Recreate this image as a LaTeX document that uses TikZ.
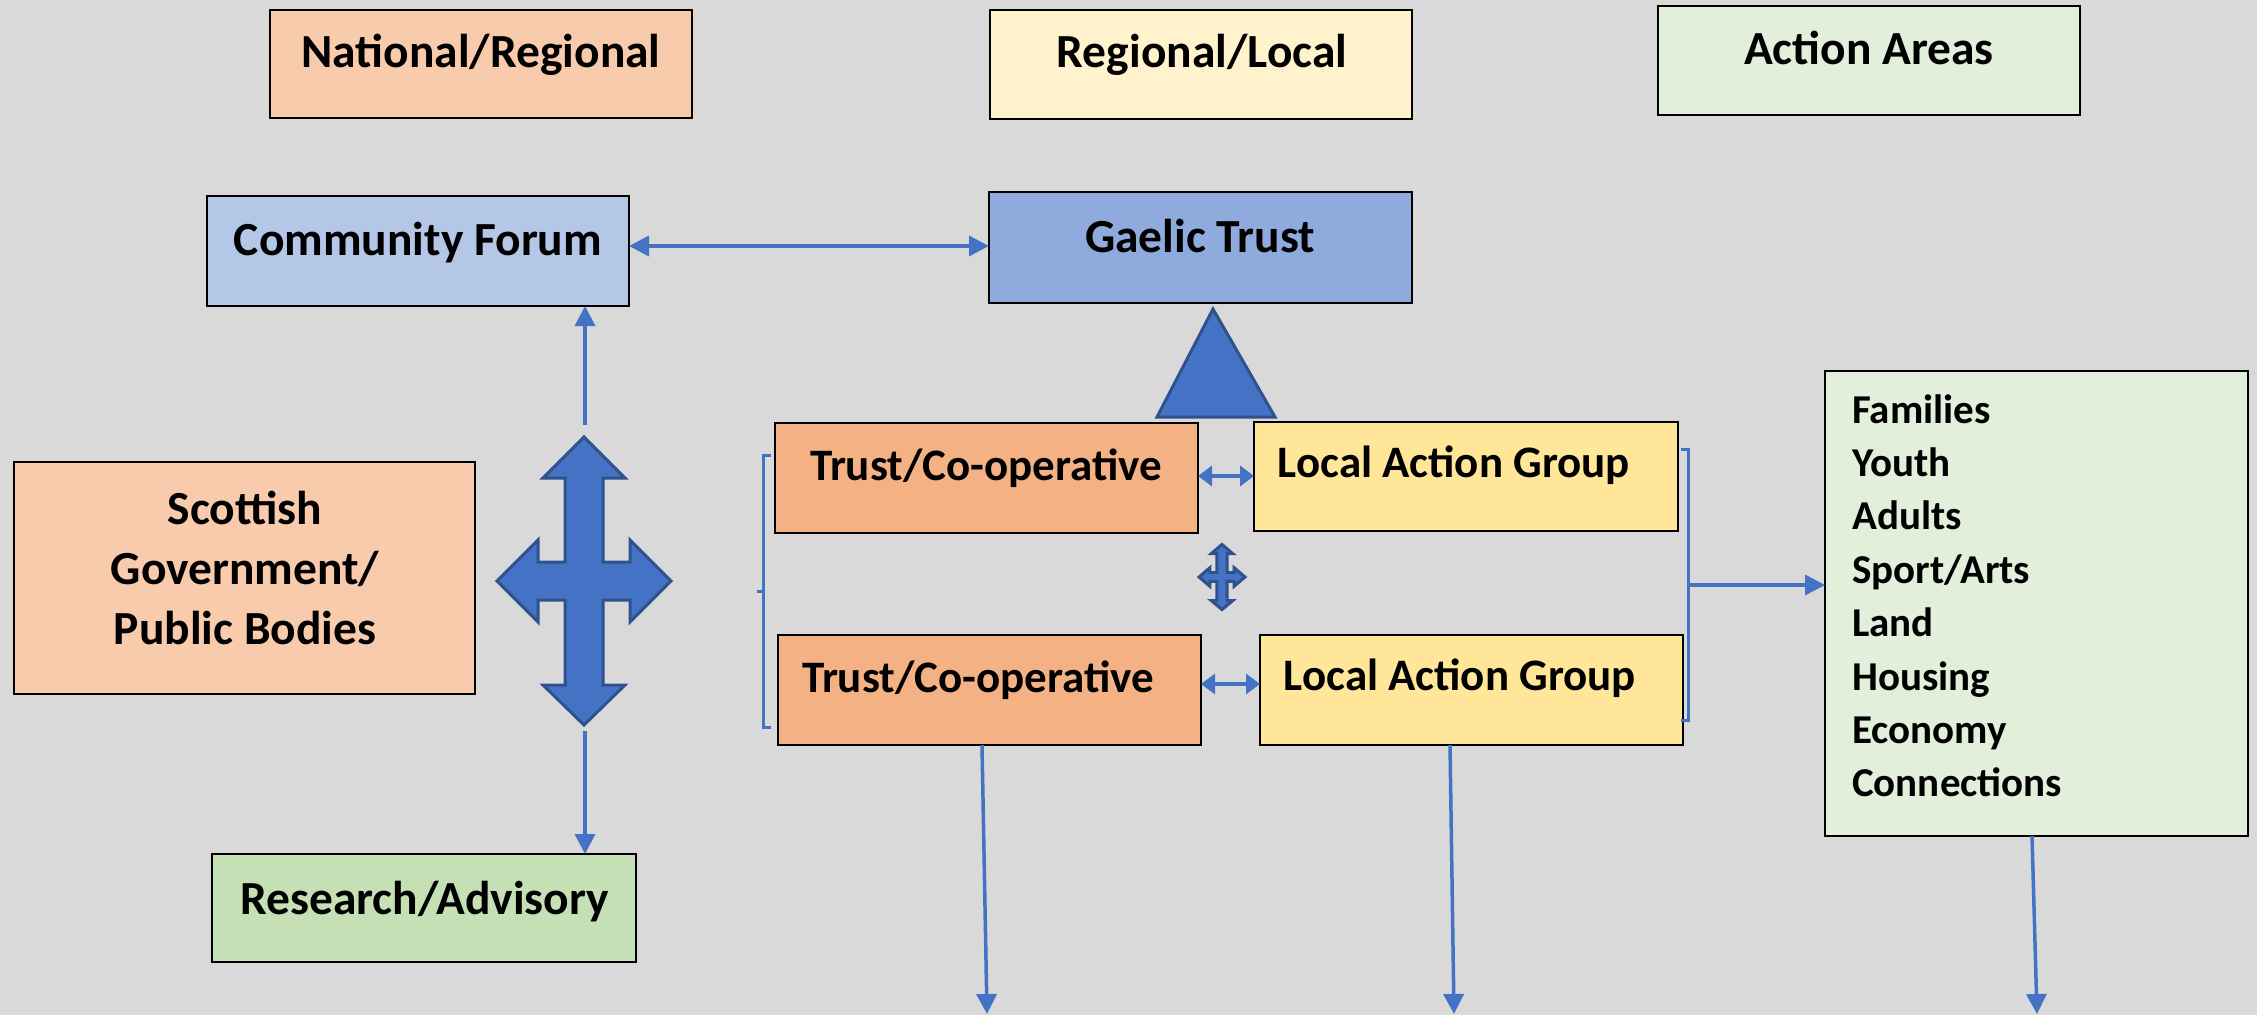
\documentclass[tikz,border=0pt]{standalone}
\usepackage{fontspec}
\setmainfont{Carlito}
\usetikzlibrary{arrows.meta}
\definecolor{bg}{HTML}{D9D9D9}
\definecolor{ablue}{HTML}{4472C4}
\definecolor{dblue}{HTML}{2F528F}
\definecolor{corange}{HTML}{F8CBAD}
\definecolor{cyellow}{HTML}{FFF2CC}
\definecolor{cgreen}{HTML}{E2EFDA}
\definecolor{cforum}{HTML}{B4C7E7}
\definecolor{cgaelic}{HTML}{8FAADC}
\definecolor{ctrust}{HTML}{F4B183}
\definecolor{clag}{HTML}{FFE699}
\definecolor{cres}{HTML}{C5E0B4}
\tikzset{
  box/.style={draw=black, line width=2.2pt, inner sep=0pt, outer sep=0pt},
  lbl/.style={font=\fontsize{47.5}{60}\selectfont\bfseries, inner sep=0pt, anchor=base},
  slbl/.style={font=\fontsize{45}{60}\selectfont\bfseries, inner sep=0pt, anchor=base},
  item/.style={font=\fontsize{41}{54}\selectfont\bfseries, inner sep=0pt, anchor=base west},
  conn/.style={draw=ablue, line width=3.5pt},
  tip/.style={-{Triangle[length=20pt,width=20pt]}},
  dtip/.style={{Triangle[length=20pt,width=20pt]}-{Triangle[length=20pt,width=20pt]}},
  stip/.style={{Triangle[length=14pt,width=20pt]}-{Triangle[length=14pt,width=20pt]}},
  block/.style={fill=ablue, draw=dblue, line width=3pt, line join=miter},
  fourway/.pic={
    \path[block] (0,-144) -- (41,-103) -- (19,-103) -- (19,-19) -- (46,-19) -- (46,-41)
      -- (87,0) -- (46,41) -- (46,19) -- (19,19) -- (19,104) -- (41,104) -- (0,144)
      -- (-41,104) -- (-19,104) -- (-19,19) -- (-46,19) -- (-46,41) -- (-87,0)
      -- (-46,-41) -- (-46,-19) -- (-19,-19) -- (-19,-103) -- (-41,-103) -- cycle;
  }
}
\begin{document}
\begin{tikzpicture}[x=1pt,y=-1pt]
\fill[bg] (0,0) rectangle (2257,1015);
\useasboundingbox (0,0) rectangle (2257,1015);

% header boxes
\node[box, fill=corange, minimum width=422pt, minimum height=108pt] (nr) at (481,64) {};
\node[lbl] (nrT) at (481,67) {National/Regional};
\node[box, fill=cyellow, minimum width=422pt, minimum height=109pt] (rl) at (1201,64.5) {};
\node[lbl] (rlT) at (1202,67) {Regional/Local};
\node[box, fill=cgreen, minimum width=422pt, minimum height=109pt] (ar) at (1869,60.5) {};
\node[lbl] (arT) at (1869,64) {Action Areas};

% main boxes
\node[box, fill=cforum, minimum width=422pt, minimum height=110pt] (cf) at (418,251) {};
\node[lbl] (cfT) at (418,255) {Community Forum};
\node[box, fill=cgaelic, minimum width=423pt, minimum height=111pt] (gt) at (1200.5,247.5) {};
\node[lbl] (gtT) at (1200,252) {Gaelic Trust};

\node[box, fill=corange, minimum width=461pt, minimum height=232pt] (sg) at (244.5,578) {};
\node[lbl] (sg1) at (245,524) {Scottish};
\node[lbl] (sg2) at (245,584) {Government/};
\node[lbl] (sg3) at (245,644) {Public Bodies};

\node[box, fill=cres, minimum width=424pt, minimum height=108pt] (ra) at (424,908) {};
\node[lbl] (raT) at (424.6,914) {Research/Advisory};

\node[box, fill=ctrust, minimum width=423pt, minimum height=110pt] (t1) at (986.5,478) {};
\node[slbl] (t1T) at (986,480) {Trust/Co-operative};
\node[box, fill=ctrust, minimum width=423pt, minimum height=110pt] (t2) at (989.5,690) {};
\node[slbl] (t2T) at (978,692) {Trust/Co-operative};

\node[box, fill=clag, minimum width=424pt, minimum height=109pt] (l1) at (1466,476.5) {};
\node[slbl] (l1T) at (1454,477) {Local Action Group};
\node[box, fill=clag, minimum width=423pt, minimum height=110pt] (l2) at (1471.5,690) {};
\node[slbl] (l2T) at (1460,690) {Local Action Group};

\node[box, fill=cgreen, minimum width=423pt, minimum height=465pt] (aa) at (2036.5,603.5) {};
\foreach \t [count=\i from 0] in {Families,Youth,Adults,Sport/Arts,Land,Housing,Economy,Connections}
  \node[item] (aa\i) at (1852,423+53.4*\i) {\t};

% block shapes
\pic at (584,581) {fourway};
\pic[xscale=0.264,yscale=0.226] at (1222,577) {fourway};
\path[block] (1213,309) -- (1275,417) -- (1157,417) -- cycle;

% connectors
\draw[conn, dtip] (cf.east |- 0,246) -- (gt.west |- 0,246);
\coordinate (fwtop) at (585,425);
\coordinate (fwbot) at (585,731);
\draw[conn, tip] (fwtop) -- (fwtop |- cf.south);
\draw[conn, tip] (fwbot) -- (fwbot |- ra.north);
\draw[conn, stip] (t1.east |- 0,476) -- (l1.west |- 0,476);
\draw[conn, stip] (t2.east |- 0,684) -- (l2.west |- 0,684);

% brackets
\draw[conn, line width=3pt] (771,455) -- (763,455) -- (763,727) -- (771,727);
\draw[conn, line width=3pt] (763,591) -- (757,591);
\draw[conn, line width=3pt] (1681,449) -- (1688,449) -- (1688,720) -- (1681,720);
\coordinate (brmid) at (1688,585);
\draw[conn, tip] (brmid) -- (brmid -| aa.west);

% bottom arrows
\coordinate (d1) at (987,1014);
\coordinate (d2) at (1454,1014);
\coordinate (d3) at (2037,1014);
\draw[conn, tip] (t2.south -| 982,0) -- (d1);
\draw[conn, tip] (l2.south -| 1450,0) -- (d2);
\draw[conn, tip] (aa.south -| 2032,0) -- (d3);
\end{tikzpicture}
\end{document}
